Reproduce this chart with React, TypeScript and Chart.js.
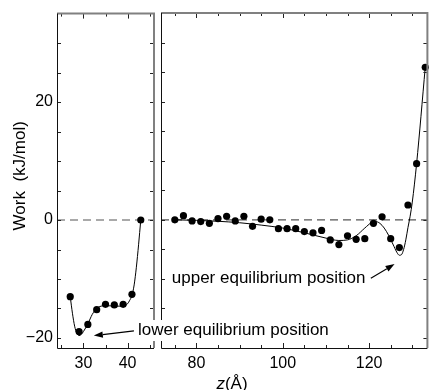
import React, { useEffect, useRef } from 'react';
import { Chart, registerables } from 'chart.js';

Chart.register(...registerables);

// ---------- data ----------
const lowerZ = [27, 29, 31, 33, 35, 37, 39, 41, 43];
const lowerWork = [-13.0, -18.9, -17.7, -15.2, -14.3, -14.4, -14.3, -12.6, 0];

const lowerCurveZ = [27, 27.5, 28, 28.5, 29, 29.5, 30, 31, 32, 33, 34, 35, 37, 39, 40, 40.5, 41, 41.5, 42, 42.5, 43];
const lowerCurveWork = [-13.0, -15.8, -18.0, -19.2, -19.6, -19.4, -18.9, -17.6, -16.0, -15.0, -14.6, -14.5, -14.6, -14.6, -14.2, -13.6, -12.8, -11.0, -8.0, -4.2, 0];

const upperZ = [75, 77, 79, 81, 83, 85, 87, 89, 91, 93, 95, 97, 99, 101, 103, 105, 107, 109, 111, 113, 115, 117, 119, 121, 123, 125, 127, 129, 131, 133];
const upperWork = [0, 0.7, -0.2, -0.3, -0.6, 0.2, 0.6, -0.2, 0.6, -1.1, 0.1, 0, -1.5, -1.5, -1.5, -2.0, -2.2, -1.8, -3.4, -4.2, -2.7, -3.3, -3.2, -0.6, 0.5, -3.2, -4.7, 2.5, 9.5, 25.8];

const upperCurveZ = [75, 80, 85, 90, 95, 100, 105, 110, 113, 115, 117, 119, 120.5, 121.5, 122.5, 123.5, 124.5, 125.5, 126.5, 127, 127.5, 128, 128.5, 129, 129.5, 130, 131, 133];
const upperCurveWork = [0, -0.1, -0.25, -0.5, -0.9, -1.4, -2.2, -3.1, -3.5, -3.4, -2.7, -1.4, -0.5, -0.3, -0.6, -1.4, -2.6, -4.1, -5.6, -6.0, -5.9, -5.0, -3.4, -1.3, 0.6, 3.0, 9.5, 25.8];

const leftRange = [24, 46];
const rightRange = [71.8, 133.5];
const yRange = [-21.7, 35];

const leftTickLabels = [30, 40];
const rightTickLabels = [80, 100, 120];
const yTickLabels = [-20, 0, 20];

const leftMinorTicks = [25, 30, 35, 40, 45];
const rightMinorTicks = [75, 80, 85, 90, 95, 100, 105, 110, 115, 120, 125, 130];
const yMinorTicks = [-20, -15, -10, -5, 0, 5, 10, 15, 20, 25, 30];

const upperLabel = 'upper equilibrium position';
const upperLabelAt = [74.3, -9.85];
const upperArrowFrom = [120.4, -9.9];
const upperArrowTo = [125.9, -7.5];

const lowerLabel = 'lower equilibrium position';
const lowerLabelAt = [42.36, -18.65];
const lowerArrowFrom = [41.45, -18.8];
const lowerArrowTo = [32.35, -19.6];

const yTitle = 'Work  (kJ/mol)';
const xTitleItalic = 'z';
const xTitleRest = '(\u00C5)';

// ---------- styling ----------
const FONT = '"Liberation Sans", Arial, Helvetica, sans-serif';
const W = 431;
const H = 390;
const PLOT_TOP = 13;
const PLOT_BOTTOM = 348;
const LEFT_L = 57;
const LEFT_R = 154;
const RIGHT_L = 161;
const RIGHT_R = 430;

const fmt = (v: number) => (v < 0 ? '\u2212' + Math.abs(v) : String(v));

function drawArrow(ctx: CanvasRenderingContext2D, x1: number, y1: number, x2: number, y2: number) {
  const ang = Math.atan2(y2 - y1, x2 - x1);
  const len = 9;
  const hw = 3.2;
  const bx = x2 - len * Math.cos(ang);
  const by = y2 - len * Math.sin(ang);
  ctx.save();
  ctx.strokeStyle = '#000';
  ctx.fillStyle = '#000';
  ctx.lineWidth = 1.2;
  ctx.beginPath();
  ctx.moveTo(x1, y1);
  ctx.lineTo(bx, by);
  ctx.stroke();
  ctx.beginPath();
  ctx.moveTo(x2, y2);
  ctx.lineTo(bx + hw * Math.sin(ang), by - hw * Math.cos(ang));
  ctx.lineTo(bx - hw * Math.sin(ang), by + hw * Math.cos(ang));
  ctx.closePath();
  ctx.fill();
  ctx.restore();
}

function framePlugin(xMinor: number[], xMajor: number[]) {
  return {
    id: 'frame',
    beforeDatasetsDraw(chart: any) {
      const { ctx, chartArea: a, scales } = chart;
      const y0 = scales.y.getPixelForValue(0);
      ctx.save();
      ctx.strokeStyle = '#555';
      ctx.lineWidth = 1.2;
      ctx.setLineDash([8, 5]);
      ctx.beginPath();
      ctx.moveTo(a.left, y0);
      ctx.lineTo(a.right, y0);
      ctx.stroke();
      ctx.restore();
    },
    afterDatasetsDraw(chart: any) {
      const { ctx, chartArea: a, scales } = chart;
      ctx.save();
      // ticks
      ctx.strokeStyle = '#222';
      ctx.lineWidth = 1;
      ctx.beginPath();
      for (const v of yMinorTicks) {
        const y = Math.round(scales.y.getPixelForValue(v)) + 0.5;
        ctx.moveTo(a.left, y);
        ctx.lineTo(a.left + 4, y);
        ctx.moveTo(a.right, y);
        ctx.lineTo(a.right - 4, y);
      }
      for (const v of xMinor) {
        const x = Math.round(scales.x.getPixelForValue(v)) + 0.5;
        const l = xMajor.includes(v) ? 5 : 3;
        ctx.moveTo(x, a.top);
        ctx.lineTo(x, a.top + l);
        ctx.moveTo(x, a.bottom);
        ctx.lineTo(x, a.bottom - l);
      }
      ctx.stroke();
      // top and right: gray, thicker
      ctx.strokeStyle = '#808080';
      ctx.lineWidth = 2;
      ctx.beginPath();
      ctx.moveTo(a.left, a.top);
      ctx.lineTo(a.right, a.top);
      ctx.lineTo(a.right, a.bottom);
      ctx.stroke();
      // left and bottom: dark, thin
      ctx.strokeStyle = '#111';
      ctx.lineWidth = 1;
      ctx.beginPath();
      ctx.moveTo(Math.round(a.left) + 0.5, a.top);
      ctx.lineTo(Math.round(a.left) + 0.5, Math.round(a.bottom) + 0.5);
      ctx.lineTo(a.right, Math.round(a.bottom) + 0.5);
      ctx.stroke();
      ctx.restore();
    },
  };
}

function makeDatasets(pz: number[], pw: number[], cz: number[], cw: number[]) {
  return [
    {
      data: pz.map((x, i) => ({ x, y: pw[i] })),
      showLine: false,
      pointRadius: 3.6,
      pointBackgroundColor: '#000',
      pointBorderWidth: 0,
      pointHoverRadius: 3.6,
      clip: false as any,
    },
    {
      data: cz.map((x, i) => ({ x, y: cw[i] })),
      showLine: true,
      pointRadius: 0,
      borderColor: '#000',
      borderWidth: 1,
      cubicInterpolationMode: 'monotone' as const,
      fill: false,
      clip: false as any,
    },
  ];
}

function xScale(range: number[], labels: number[]) {
  return {
    type: 'linear' as const,
    min: range[0],
    max: range[1],
    afterBuildTicks: (s: any) => {
      s.ticks = labels.map((v) => ({ value: v }));
    },
    afterFit: (s: any) => {
      s.height = H - PLOT_BOTTOM;
    },
    grid: { display: false, drawTicks: false },
    border: { display: false },
    ticks: {
      color: '#000',
      font: { size: 16, family: FONT },
      padding: 6,
      maxRotation: 0,
      autoSkip: false,
      callback: (v: any) => fmt(Number(v)),
    },
  };
}

export default function App() {
  const leftRef = useRef<HTMLCanvasElement>(null);
  const rightRef = useRef<HTMLCanvasElement>(null);

  useEffect(() => {
    Chart.defaults.font.family = FONT;

    const common = {
      responsive: false,
      animation: false as const,
      events: [] as any,
      plugins: { legend: { display: false }, tooltip: { enabled: false } },
    };

    const right = new Chart(rightRef.current as HTMLCanvasElement, {
      type: 'scatter',
      data: { datasets: makeDatasets(upperZ, upperWork, upperCurveZ, upperCurveWork) as any },
      options: {
        ...common,
        layout: { padding: { left: RIGHT_L, right: W - RIGHT_R, top: PLOT_TOP, bottom: 0 } },
        scales: {
          x: xScale(rightRange, rightTickLabels) as any,
          y: { type: 'linear', min: yRange[0], max: yRange[1], display: false },
        },
      } as any,
      plugins: [
        framePlugin(rightMinorTicks, rightTickLabels),
        {
          id: 'upperNote',
          afterDraw(chart: any) {
            const { ctx, scales } = chart;
            const px = (v: number[]) => [scales.x.getPixelForValue(v[0]), scales.y.getPixelForValue(v[1])];
            const [tx, ty] = px(upperLabelAt);
            ctx.save();
            ctx.font = `17px ${FONT}`;
            ctx.fillStyle = '#000';
            ctx.textAlign = 'left';
            ctx.textBaseline = 'middle';
            ctx.fillText(upperLabel, tx, ty);
            ctx.restore();
            const [ax, ay] = px(upperArrowFrom);
            const [bx, by] = px(upperArrowTo);
            drawArrow(ctx, ax, ay, bx, by);
          },
        } as any,
      ],
    });

    const left = new Chart(leftRef.current as HTMLCanvasElement, {
      type: 'scatter',
      data: { datasets: makeDatasets(lowerZ, lowerWork, lowerCurveZ, lowerCurveWork) as any },
      options: {
        ...common,
        layout: { padding: { left: 0, right: W - LEFT_R, top: PLOT_TOP, bottom: 0 } },
        scales: {
          x: xScale(leftRange, leftTickLabels) as any,
          y: {
            type: 'linear',
            min: yRange[0],
            max: yRange[1],
            afterBuildTicks: (s: any) => {
              s.ticks = yTickLabels.map((v) => ({ value: v }));
            },
            afterFit: (s: any) => {
              s.width = LEFT_L;
            },
            grid: { display: false, drawTicks: false },
            border: { display: false },
            ticks: {
              color: '#000',
              font: { size: 16, family: FONT },
              padding: 4,
              callback: (v: any) => fmt(Number(v)),
            },
          },
        },
      } as any,
      plugins: [
        framePlugin(leftMinorTicks, leftTickLabels),
        {
          id: 'lowerNote',
          afterDraw(chart: any) {
            const { ctx, scales } = chart;
            const px = (v: number[]) => [scales.x.getPixelForValue(v[0]), scales.y.getPixelForValue(v[1])];
            const [tx, ty] = px(lowerLabelAt);
            ctx.save();
            ctx.font = `17px ${FONT}`;
            const w = ctx.measureText(lowerLabel).width;
            ctx.fillStyle = '#fff';
            ctx.fillRect(tx - 2, ty - 10, w + 4, 21);
            ctx.fillStyle = '#000';
            ctx.textAlign = 'left';
            ctx.textBaseline = 'middle';
            ctx.fillText(lowerLabel, tx, ty);
            ctx.restore();
            const [ax, ay] = px(lowerArrowFrom);
            const [bx, by] = px(lowerArrowTo);
            drawArrow(ctx, ax, ay, bx, by);

            // axis titles
            const a = chart.chartArea;
            ctx.save();
            ctx.fillStyle = '#000';
            ctx.font = `17px ${FONT}`;
            ctx.textAlign = 'center';
            ctx.textBaseline = 'middle';
            ctx.translate(20, (a.top + a.bottom) / 2 - 5);
            ctx.rotate(-Math.PI / 2);
            ctx.fillText(yTitle, 0, 0);
            ctx.restore();

            ctx.save();
            ctx.fillStyle = '#000';
            ctx.textBaseline = 'middle';
            ctx.textAlign = 'left';
            ctx.font = `italic 17px ${FONT}`;
            const wz = ctx.measureText(xTitleItalic).width;
            ctx.font = `17px ${FONT}`;
            const wr = ctx.measureText(xTitleRest).width;
            const cx = 232;
            const cy = 384;
            const x0 = cx - (wz + wr) / 2;
            ctx.font = `italic 17px ${FONT}`;
            ctx.fillText(xTitleItalic, x0, cy);
            ctx.font = `17px ${FONT}`;
            ctx.fillText(xTitleRest, x0 + wz, cy);
            ctx.restore();
          },
        } as any,
      ],
    });

    return () => {
      left.destroy();
      right.destroy();
    };
  }, []);

  return (
    <div style={{ position: 'fixed', left: 0, top: 0, width: W, height: H, background: '#fff' }}>
      <canvas
        ref={rightRef}
        width={W}
        height={H}
        style={{ position: 'absolute', left: 0, top: 0, width: W, height: H }}
      />
      <canvas
        ref={leftRef}
        width={W}
        height={H}
        style={{ position: 'absolute', left: 0, top: 0, width: W, height: H }}
      />
    </div>
  );
}
